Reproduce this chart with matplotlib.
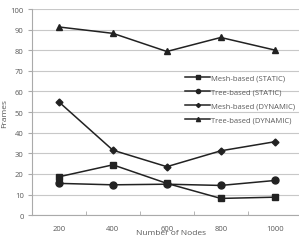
import matplotlib
matplotlib.use("Agg")
import matplotlib.pyplot as plt

nodes = ["200", "400", "600", "800", "1000"]
mesh_static = [18.6, 24.4, 15.4, 8.1, 8.7]
tree_static = [15.4, 14.7, 15.0, 14.4, 16.8]
mesh_dynamic = [54.9, 31.5, 23.5, 31.2, 35.6]
tree_dynamic = [91.3, 88.2, 79.4, 86.2, 80.1]

plt.rcParams["font.family"] = ["Open Sans", "DejaVu Sans"]
txt = "#595959"

fig = plt.figure(figsize=(2.99, 2.51), dpi=100)
ax = fig.add_axes([0.107, 0.139, 0.893, 0.821])

x = range(len(nodes))
ax.plot(x, mesh_static, color="#222222", lw=1.1, marker="s", ms=5, label="Mesh-based (STATIC)")
ax.plot(x, tree_static, color="#222222", lw=1.1, marker="o", ms=5, label="Tree-based (STATIC)")
ax.plot(x, mesh_dynamic, color="#222222", lw=1.1, marker="D", ms=3.5, label="Mesh-based (DYNAMIC)")
ax.plot(x, tree_dynamic, color="#222222", lw=1.1, marker="^", ms=5, label="Tree-based (DYNAMIC)")

ax.set_xlim(-0.5, 4.45)
ax.set_ylim(0, 100)
ax.set_yticks(range(0, 101, 10))
ax.set_xticks(list(x))
ax.set_xticklabels(nodes)
ax.set_xticks([0.5, 1.5, 2.5, 3.5], minor=True)
ax.tick_params(axis="x", which="major", length=0, labelsize=5.5, colors=txt, pad=7)
ax.tick_params(axis="x", which="minor", length=3, color="#aaaaaa", direction="in")
ax.tick_params(axis="y", length=3, color="#aaaaaa", labelsize=5.5, colors=txt, pad=3)

ax.grid(axis="y", color="#c8c8c8", lw=0.8)
ax.set_axisbelow(True)
for s in ["top", "right"]:
    ax.spines[s].set_visible(False)
for s in ["left", "bottom"]:
    ax.spines[s].set_color("#aaaaaa")
    ax.spines[s].set_linewidth(0.8)

ax.set_xlabel("Number of Nodes", fontsize=6, color=txt)
ax.xaxis.set_label_coords(0.52, -0.065)
ax.set_ylabel("Frames", fontsize=6, color=txt)
ax.yaxis.set_label_coords(-0.09, 0.5)

leg = ax.legend(loc="upper left", bbox_to_anchor=(0.573, 0.685), fontsize=5.5, frameon=False,
                handlelength=3.3, labelspacing=0.9, handletextpad=0.1, borderpad=0,
                borderaxespad=0, markerscale=0.6)
for t in leg.get_texts():
    t.set_color(txt)

fig.savefig("out.png", dpi=100)
